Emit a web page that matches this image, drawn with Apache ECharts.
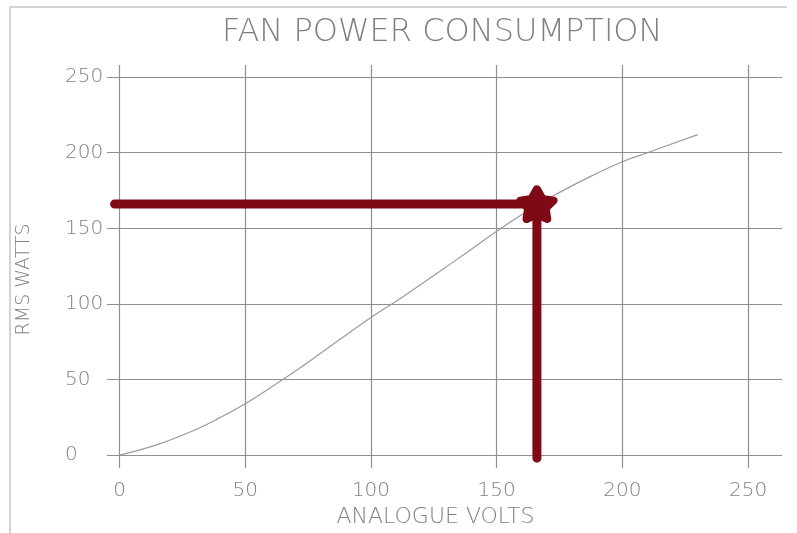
<!DOCTYPE html>
<html>
<head>
<meta charset="utf-8">
<script src="https://cdn.jsdelivr.net/npm/echarts@6/dist/echarts.min.js"></script>
<style>
  html, body { margin: 0; padding: 0; background: #fff; }
  #chart { width: 797px; height: 533px; }
</style>
</head>
<body>
<div id="chart"></div>
<script>
// curve
var volts = [0, 15, 29, 39, 50, 64, 78, 88, 100, 112, 126, 139, 150, 159, 172, 187, 200, 210, 230];
var watts = [0, 7, 16, 24, 34, 49, 65, 77, 91, 104, 120, 135, 148, 158, 171, 184, 194, 200, 212];

// operating point + guide line (left end -> point -> down to axis)
var pointX = 166;
var pointY = 166;
var guideX = [-2, pointX, pointX];
var guideY = [pointY, pointY, -2];

// tick labels
var xTicks = [0, 50, 100, 150, 200, 250];
var yTicks = [0, 50, 100, 150, 200, 250];

var textColor = '#808080';
var gridColor = '#8f8f8f';
var markColor = '#7d0a14';
var font = "'DejaVu Sans', sans-serif";

var chart = echarts.init(document.getElementById('chart'));

chart.setOption({
  animation: false,
  backgroundColor: '#fff',
  title: {
    text: 'FAN POWER CONSUMPTION',
    left: 222,
    top: 17,
    padding: 0,
    textStyle: {
      fontFamily: font,
      fontWeight: 200,
      fontSize: 32,
      color: textColor
    }
  },
  grid: {
    left: 107,
    right: 15,
    top: 65,
    bottom: 63
  },
  xAxis: {
    type: 'value',
    min: -5,
    max: 263.5,
    name: 'ANALOGUE VOLTS',
    nameLocation: 'middle',
    nameGap: 38,
    nameTextStyle: {
      fontFamily: font,
      fontWeight: 200,
      fontSize: 22,
      color: textColor,
      padding: [0, 18, 0, 0]
    },
    axisLine: { show: false },
    axisTick: { show: false, customValues: xTicks },
    axisLabel: {
      customValues: xTicks,
      margin: 13,
      fontFamily: font,
      fontWeight: 200,
      fontSize: 20,
      color: textColor
    },
    splitLine: { show: true, lineStyle: { color: gridColor, width: 1.2 } }
  },
  yAxis: {
    type: 'value',
    min: -8.5,
    max: 258,
    name: 'RMS WATTS',
    nameLocation: 'middle',
    nameGap: 73,
    nameRotate: 90,
    nameTextStyle: {
      fontFamily: font,
      fontWeight: 200,
      fontSize: 19,
      color: textColor,
      padding: [0, 26, 0, 0]
    },
    axisLine: { show: false },
    axisTick: { show: false, customValues: yTicks },
    axisLabel: {
      customValues: yTicks,
      margin: 42,
      align: 'left',
      fontFamily: font,
      fontWeight: 200,
      fontSize: 20,
      color: textColor
    },
    splitLine: { show: true, lineStyle: { color: gridColor, width: 1.2 } }
  },
  graphic: [
    { type: 'line', shape: { x1: 10, y1: 7, x2: 10, y2: 533 }, style: { stroke: '#c4c4c4', lineWidth: 1.5 } },
    { type: 'line', shape: { x1: 10, y1: 7, x2: 787, y2: 7 }, style: { stroke: '#c4c4c4', lineWidth: 1.5 } }
  ],
  series: [
    {
      name: 'power',
      type: 'line',
      smooth: 0.4,
      showSymbol: false,
      data: volts.map(function (v, i) { return [v, watts[i]]; }),
      lineStyle: { color: '#9a9a9a', width: 1.2 },
      z: 2
    },
    {
      name: 'guide',
      type: 'line',
      showSymbol: false,
      data: guideX.map(function (v, i) { return [v, guideY[i]]; }),
      lineStyle: { color: markColor, width: 9, cap: 'round', join: 'round' },
      z: 3
    },
    {
      name: 'point',
      type: 'scatter',
      data: [[pointX, pointY]],
      symbol: 'path://M50 0L65.3 29L97.6 34.5L74.7 58L79.4 90.5L50 76L20.6 90.5L25.3 58L2.4 34.5L34.7 29Z',
      symbolSize: [33, 30],
      itemStyle: {
        color: markColor,
        borderColor: markColor,
        borderWidth: 8,
        borderJoin: 'round',
        opacity: 1
      },
      z: 4
    }
  ]
});
</script>
</body>
</html>
